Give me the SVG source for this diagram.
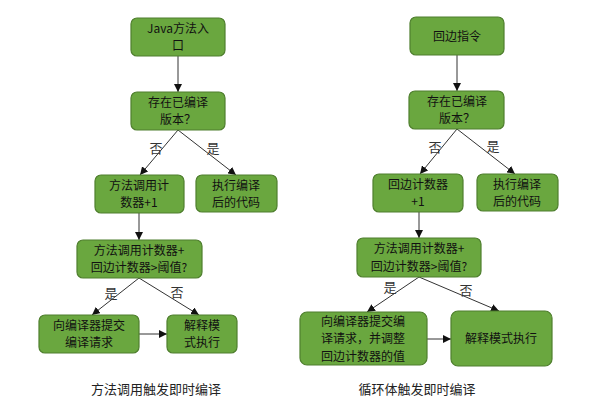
<svg xmlns="http://www.w3.org/2000/svg" width="601" height="417" viewBox="0 0 601 417">
<defs>
<marker id="ah" viewBox="0 0 10 10" refX="10" refY="5" markerWidth="8" markerHeight="8" markerUnits="userSpaceOnUse" orient="auto">
<path d="M0,0 L10,5 L0,10 z" fill="#111"/>
</marker>
<style>
.box{fill:#6aa73f;stroke:#4f7f2e;stroke-width:1.2}
.t{font-family:"Noto Sans CJK SC","Liberation Sans",sans-serif;font-size:12px;fill:#111;text-anchor:middle}
.lb{font-family:"Noto Sans CJK SC","Liberation Sans",sans-serif;font-size:13px;fill:#333;text-anchor:middle}
.cap{font-family:"Noto Sans CJK SC","Liberation Sans",sans-serif;font-size:13px;fill:#222;text-anchor:middle}
.c{stroke:#333;stroke-width:1;fill:none;marker-end:url(#ah)}
</style>
</defs>
<rect width="601" height="417" fill="#fff"/>
<g id="connectors">
<line class="c" x1="178" y1="56" x2="178" y2="92"/>
<line class="c" x1="178" y1="130" x2="140" y2="175"/>
<line class="c" x1="178" y1="130" x2="236" y2="175"/>
<line class="c" x1="139" y1="213" x2="139" y2="240"/>
<line class="c" x1="139" y1="278" x2="92" y2="315"/>
<line class="c" x1="139" y1="278" x2="199" y2="315"/>
<line class="c" x1="139" y1="334" x2="167" y2="334"/>
<line class="c" x1="457" y1="55" x2="457" y2="91"/>
<line class="c" x1="457" y1="129" x2="420" y2="174"/>
<line class="c" x1="457" y1="129" x2="515" y2="174"/>
<line class="c" x1="419" y1="212" x2="419" y2="238"/>
<line class="c" x1="419" y1="277" x2="367" y2="312"/>
<line class="c" x1="419" y1="277" x2="499" y2="311"/>
<line class="c" x1="427" y1="339" x2="451" y2="339"/>
<text class="lb" x="156" y="153">否</text>
<text class="lb" x="213" y="153">是</text>
<text class="lb" x="111" y="298">是</text>
<text class="lb" x="177" y="297">否</text>
<text class="lb" x="435" y="152">否</text>
<text class="lb" x="493" y="151">是</text>
<text class="lb" x="390" y="292">是</text>
<text class="lb" x="466" y="295">否</text>
</g>
<g id="nA"><rect class="box" x="131" y="18" width="94" height="38" rx="6"/><text class="t" x="178" y="32.75">Java方法入<tspan x="178" dy="17.5">口</tspan></text></g>
<g id="nB"><rect class="box" x="131" y="92" width="94" height="38" rx="6"/><text class="t" x="178" y="106.75">存在已编译<tspan x="178" dy="17.5">版本？</tspan></text></g>
<g id="nC"><rect class="box" x="95" y="175" width="89" height="38" rx="6"/><text class="t" x="139" y="189.75">方法调用计<tspan x="139" dy="17.5">数器+1</tspan></text></g>
<g id="nD"><rect class="box" x="196" y="175" width="81" height="37" rx="6"/><text class="t" x="236" y="189.5">执行编译<tspan x="236" dy="17.5">后的代码</tspan></text></g>
<g id="nE"><rect class="box" x="77" y="240" width="125" height="38" rx="6"/><text class="t" x="139" y="254.75">方法调用计数器+<tspan x="139" dy="17.5">回边计数器&gt;阈值?</tspan></text></g>
<g id="nF"><rect class="box" x="39" y="315" width="100" height="38" rx="6"/><text class="t" x="89" y="329.75">向编译器提交<tspan x="89" dy="17.5">编译请求</tspan></text></g>
<g id="nG"><rect class="box" x="167" y="315" width="70" height="38" rx="6"/><text class="t" x="202" y="329.75">解释模<tspan x="202" dy="17.5">式执行</tspan></text></g>
<g id="cap1"><text class="cap" x="156" y="394">方法调用触发即时编译</text></g>
<g id="nA2"><rect class="box" x="410" y="17" width="94" height="38" rx="6"/><text class="t" x="457" y="40.5">回边指令</text></g>
<g id="nB2"><rect class="box" x="409" y="91" width="95" height="38" rx="6"/><text class="t" x="457" y="105.75">存在已编译<tspan x="457" dy="17.5">版本？</tspan></text></g>
<g id="nC2"><rect class="box" x="373" y="174" width="90" height="38" rx="6"/><text class="t" x="418" y="188.75">回边计数器<tspan x="418" dy="17.5">+1</tspan></text></g>
<g id="nD2"><rect class="box" x="477" y="174" width="81" height="37" rx="6"/><text class="t" x="517" y="188.5">执行编译<tspan x="517" dy="17.5">后的代码</tspan></text></g>
<g id="nE2"><rect class="box" x="357" y="238" width="124" height="39" rx="6"/><text class="t" x="419" y="253.25">方法调用计数器+<tspan x="419" dy="17.5">回边计数器&gt;阈值?</tspan></text></g>
<g id="nF2"><rect class="box" x="300" y="312" width="127" height="53" rx="7"/><text class="t" x="363" y="325.5">向编译器提交编<tspan x="363" dy="17.5">译请求，并调整</tspan><tspan x="363" dy="17.5">回边计数器的值</tspan></text></g>
<g id="nG2"><rect class="box" x="451" y="311" width="101" height="55" rx="7"/><text class="t" x="501" y="343">解释模式执行</text></g>
<g id="cap2"><text class="cap" x="417" y="394">循环体触发即时编译</text></g>
</svg>
